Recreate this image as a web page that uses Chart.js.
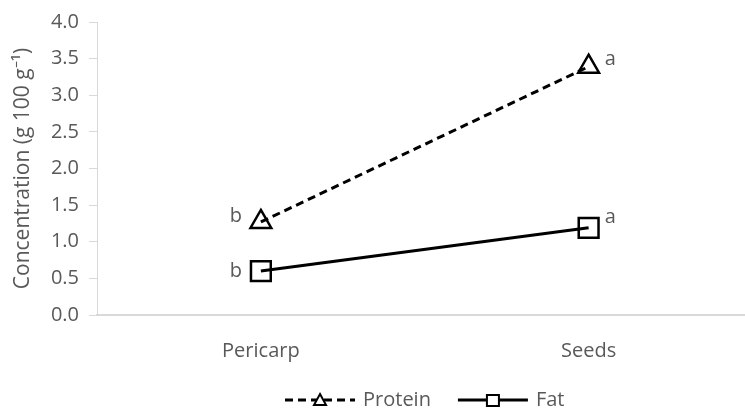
<!DOCTYPE html>
<html>
<head>
<meta charset="utf-8">
<script src="https://cdn.jsdelivr.net/npm/chart.js@4.4.1/dist/chart.umd.min.js"></script>
<style>
  html, body { margin:0; padding:0; background:#fff; overflow:hidden; }
  #cv { display:block; }
</style>
</head>
<body>
<canvas id="cv" width="769" height="408"></canvas>
<script>
/* dados */
const CATEGORIAS = ["Pericarp", "Seeds"];
const PROTEINA = [1.27, 3.39];
const GORDURA = [0.6, 1.19];
const LETRAS_PROTEINA = ["b", "a"];
const LETRAS_GORDURA = ["b", "a"];
const Y_TICKS = [0, 0.5, 1, 1.5, 2, 2.5, 3, 3.5, 4];

const CINZA = "#595959";
const FONTE = "'Open Sans', sans-serif";

/* letras de significância + legenda */
const extras = {
  id: "extras",
  afterDatasetsDraw(chart) {
    const ctx = chart.ctx;
    const x = chart.scales.x, y = chart.scales.y;
    ctx.save();
    ctx.font = "20px " + FONTE;
    ctx.fillStyle = CINZA;
    ctx.textBaseline = "middle";
    // [valores, letras, deslocamento vertical esq, dir]
    const grupos = [[PROTEINA, LETRAS_PROTEINA, -6, -7], [GORDURA, LETRAS_GORDURA, 0, -11]];
    grupos.forEach(([vals, letras, dyE, dyD]) => {
      vals.forEach((v, i) => {
        const px = x.getPixelForValue(i), py = y.getPixelForValue(v);
        if (i === 0) { ctx.textAlign = "right"; ctx.fillText(letras[i], px - 19, py + dyE); }
        else { ctx.textAlign = "left"; ctx.fillText(letras[i], px + 16, py + dyD); }
      });
    });
    ctx.restore();
  },
  afterDraw(chart) {
    const ctx = chart.ctx;
    const ca = chart.chartArea;
    const cx = (ca.left + ca.right) / 2;
    const ly = 400;
    ctx.save();
    ctx.font = "20px " + FONTE;
    const itens = [
      { nome:"Protein", dash:[8,5], forma:"tri" },
      { nome:"Fat", dash:[], forma:"sq" },
    ];
    const linha = 70, gap = 8, entre = 27;
    const larg = itens.map(it => linha + gap + ctx.measureText(it.nome).width);
    let total = larg.reduce((s, w) => s + w, 0) + entre * (itens.length - 1);
    let px = cx - total / 2;
    itens.forEach((it, i) => {
      ctx.strokeStyle = "#000";
      ctx.lineWidth = 3;
      ctx.setLineDash(it.dash);
      ctx.beginPath(); ctx.moveTo(px, ly); ctx.lineTo(px + linha, ly); ctx.stroke();
      ctx.setLineDash([]);
      const mx = px + linha / 2;
      ctx.lineWidth = 2;
      ctx.fillStyle = "#fff";
      ctx.beginPath();
      if (it.forma === "tri") {
        ctx.moveTo(mx, ly - 6); ctx.lineTo(mx + 6, ly + 5); ctx.lineTo(mx - 6, ly + 5); ctx.closePath();
      } else {
        ctx.rect(mx - 6, ly - 5, 12, 11);
      }
      ctx.fill(); ctx.stroke();
      ctx.fillStyle = CINZA;
      ctx.textAlign = "left";
      ctx.textBaseline = "middle";
      ctx.fillText(it.nome, px + linha + gap, ly);
      px += larg[i] + entre;
    });
    ctx.restore();
  }
};

Chart.defaults.font.family = FONTE;
Chart.defaults.font.size = 20;
Chart.defaults.color = CINZA;

new Chart(document.getElementById("cv"), {
  type: "line",
  data: {
    labels: CATEGORIAS,
    datasets: [
      { label:"Protein", data:PROTEINA, borderColor:"#000", borderWidth:3, borderDash:[8,5],
        pointStyle:"triangle", pointRadius:12, pointBorderWidth:2.5, pointBorderColor:"#000",
        pointBackgroundColor:"rgba(0,0,0,0)", tension:0 },
      { label:"Fat", data:GORDURA, borderColor:"#000", borderWidth:3,
        pointStyle:"rect", pointRadius:14, pointBorderWidth:2.5, pointBorderColor:"#000",
        pointBackgroundColor:"rgba(0,0,0,0)", tension:0 },
    ]
  },
  options: {
    responsive: false,
    animation: false,
    layout: { padding: { top: 22, left: 0, right: 0, bottom: 0 } },
    plugins: { legend: { display:false }, tooltip: { enabled:false } },
    scales: {
      x: {
        offset: true,
        grid: { display:false },
        border: { display:true, color:"#d9d9d9", width:2 },
        ticks: { padding: 16, font: { size:20 } },
        afterFit: s => { s.height = 93; }
      },
      y: {
        min: 0, max: 4,
        afterBuildTicks: s => { s.ticks = Y_TICKS.map(v => ({ value:v })); },
        grid: { display:true, drawOnChartArea:false, drawTicks:true, tickLength:8, color:"#d9d9d9", lineWidth:1 },
        border: { display:true, color:"#d9d9d9", width:1 },
        ticks: { padding: 10, callback: v => v.toFixed(1), font: { size:20 } },
        title: { display:true, text:"Concentration (g 100 g\u207B\u00B9)", color:CINZA, font:{ size:21 }, padding:{ top:10, bottom:0 } },
        afterFit: s => { s.width = 97; }
      }
    }
  },
  plugins: [extras]
});
</script>
</body>
</html>
